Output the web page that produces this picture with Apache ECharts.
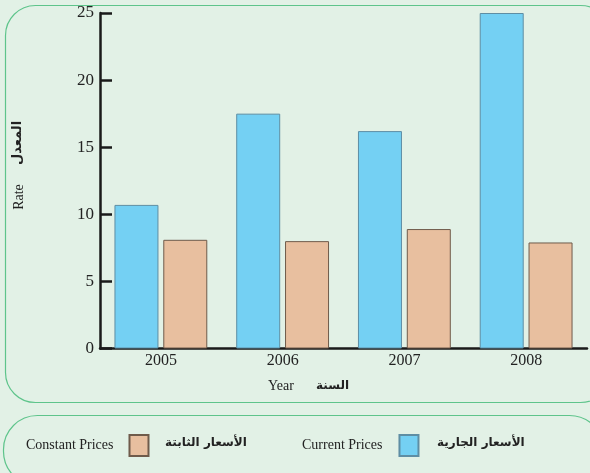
<!DOCTYPE html>
<html>
<head>
<meta charset="UTF-8">
<title>Rate</title>
<script src="https://cdn.jsdelivr.net/npm/echarts@6/dist/echarts.min.js"></script>
<style>
	html, body { margin: 0; padding: 0; background: #e2f1e6; }
	#main { width: 590px; height: 473px; }
</style>
</head>
<body>
<div id="main"></div>
<script type="text/javascript">
	// data
	var years = ['2005', '2006', '2007', '2008'];
	var currentPrices = [10.7, 17.5, 16.2, 25.0];
	var constantPrices = [8.1, 8.0, 8.9, 7.9];
	var yTicks = { min: 0, max: 25, interval: 5 };

	var serif = '"Liberation Serif", "DejaVu Serif", serif';
	var arabic = '"DejaVu Sans", "Noto Sans", sans-serif';
	var green = '#5ec48b';

	var myChart = echarts.init(document.getElementById('main'));

	var option = {
		backgroundColor: '#e2f1e6',
		animation: false,
		grid: { left: 100, right: 3, top: 13, bottom: 124.5 },
		graphic: [
			// panels
			{ type: 'rect', z: -10, shape: { x: 5.5, y: 5.5, width: 605, height: 397, r: 30 },
				style: { fill: 'transparent', stroke: green, lineWidth: 1.2 } },
			{ type: 'rect', z: -10, shape: { x: 3.5, y: 415.5, width: 600, height: 70, r: 34 },
				style: { fill: 'transparent', stroke: green, lineWidth: 1.2 } },
			// y axis name
			{ type: 'text', x: 19, y: 197, rotation: Math.PI / 2,
				style: { text: 'Rate', font: '14px ' + serif, fill: '#222', align: 'center', verticalAlign: 'middle' } },
			{ type: 'text', x: 18, y: 143, rotation: Math.PI / 2,
				style: { text: 'المعدل', font: 'bold 13px ' + arabic, fill: '#222', align: 'center', verticalAlign: 'middle' } },
			// x axis name
			{ type: 'text', x: 268, y: 386,
				style: { text: 'Year', font: '14px ' + serif, fill: '#222', align: 'left', verticalAlign: 'middle' } },
			{ type: 'text', x: 316, y: 386,
				style: { text: 'السنة', font: 'bold 12px ' + arabic, fill: '#222', align: 'left', verticalAlign: 'middle' } },
			// arabic legend names
			{ type: 'text', x: 165, y: 443,
				style: { text: 'الأسعار الثابتة', font: 'bold 12px ' + arabic, fill: '#222', align: 'left', verticalAlign: 'middle' } },
			{ type: 'text', x: 437, y: 443,
				style: { text: 'الأسعار الجارية', font: 'bold 12px ' + arabic, fill: '#222', align: 'left', verticalAlign: 'middle' } }
		],
		legend: [
			{
				data: ['Constant Prices'], left: 26, top: 434, align: 'right', icon: 'rect',
				itemWidth: 19, itemHeight: 21, padding: 0,
				textStyle: { fontFamily: serif, fontSize: 14, color: '#222', padding: [0, 11, 0, 0] }
			},
			{
				data: ['Current Prices'], left: 302, top: 434, align: 'right', icon: 'rect',
				itemWidth: 19, itemHeight: 21, padding: 0,
				textStyle: { fontFamily: serif, fontSize: 14, color: '#222', padding: [0, 12, 0, 0] }
			}
		],
		xAxis: {
			type: 'category',
			data: years,
			axisLine: { lineStyle: { color: '#1a1a1a', width: 2.5 } },
			axisTick: { inside: true, length: 8, lineStyle: { color: '#1a1a1a', width: 2.5 } },
			axisLabel: { fontFamily: serif, fontSize: 16, color: '#222', margin: 4 }
		},
		yAxis: {
			type: 'value',
			min: yTicks.min, max: yTicks.max, interval: yTicks.interval,
			axisLine: { show: true, lineStyle: { color: '#1a1a1a', width: 2.5 } },
			axisTick: { show: true, inside: true, length: 12, lineStyle: { color: '#1a1a1a', width: 2.5 } },
			axisLabel: { fontFamily: serif, fontSize: 17, color: '#222', margin: 6 },
			splitLine: { show: false }
		},
		series: [
			{
				name: 'Current Prices',
				type: 'bar',
				data: currentPrices,
				barWidth: 44,
				barGap: '11%',
				itemStyle: { color: '#74d0f3', borderColor: '#5e8ea4', borderWidth: 1 }
			},
			{
				name: 'Constant Prices',
				type: 'bar',
				data: constantPrices,
				barWidth: 44,
				itemStyle: { color: '#e8bf9f', borderColor: '#6f5b4b', borderWidth: 1 }
			}
		]
	};

	myChart.setOption(option);
</script>
</body>
</html>
